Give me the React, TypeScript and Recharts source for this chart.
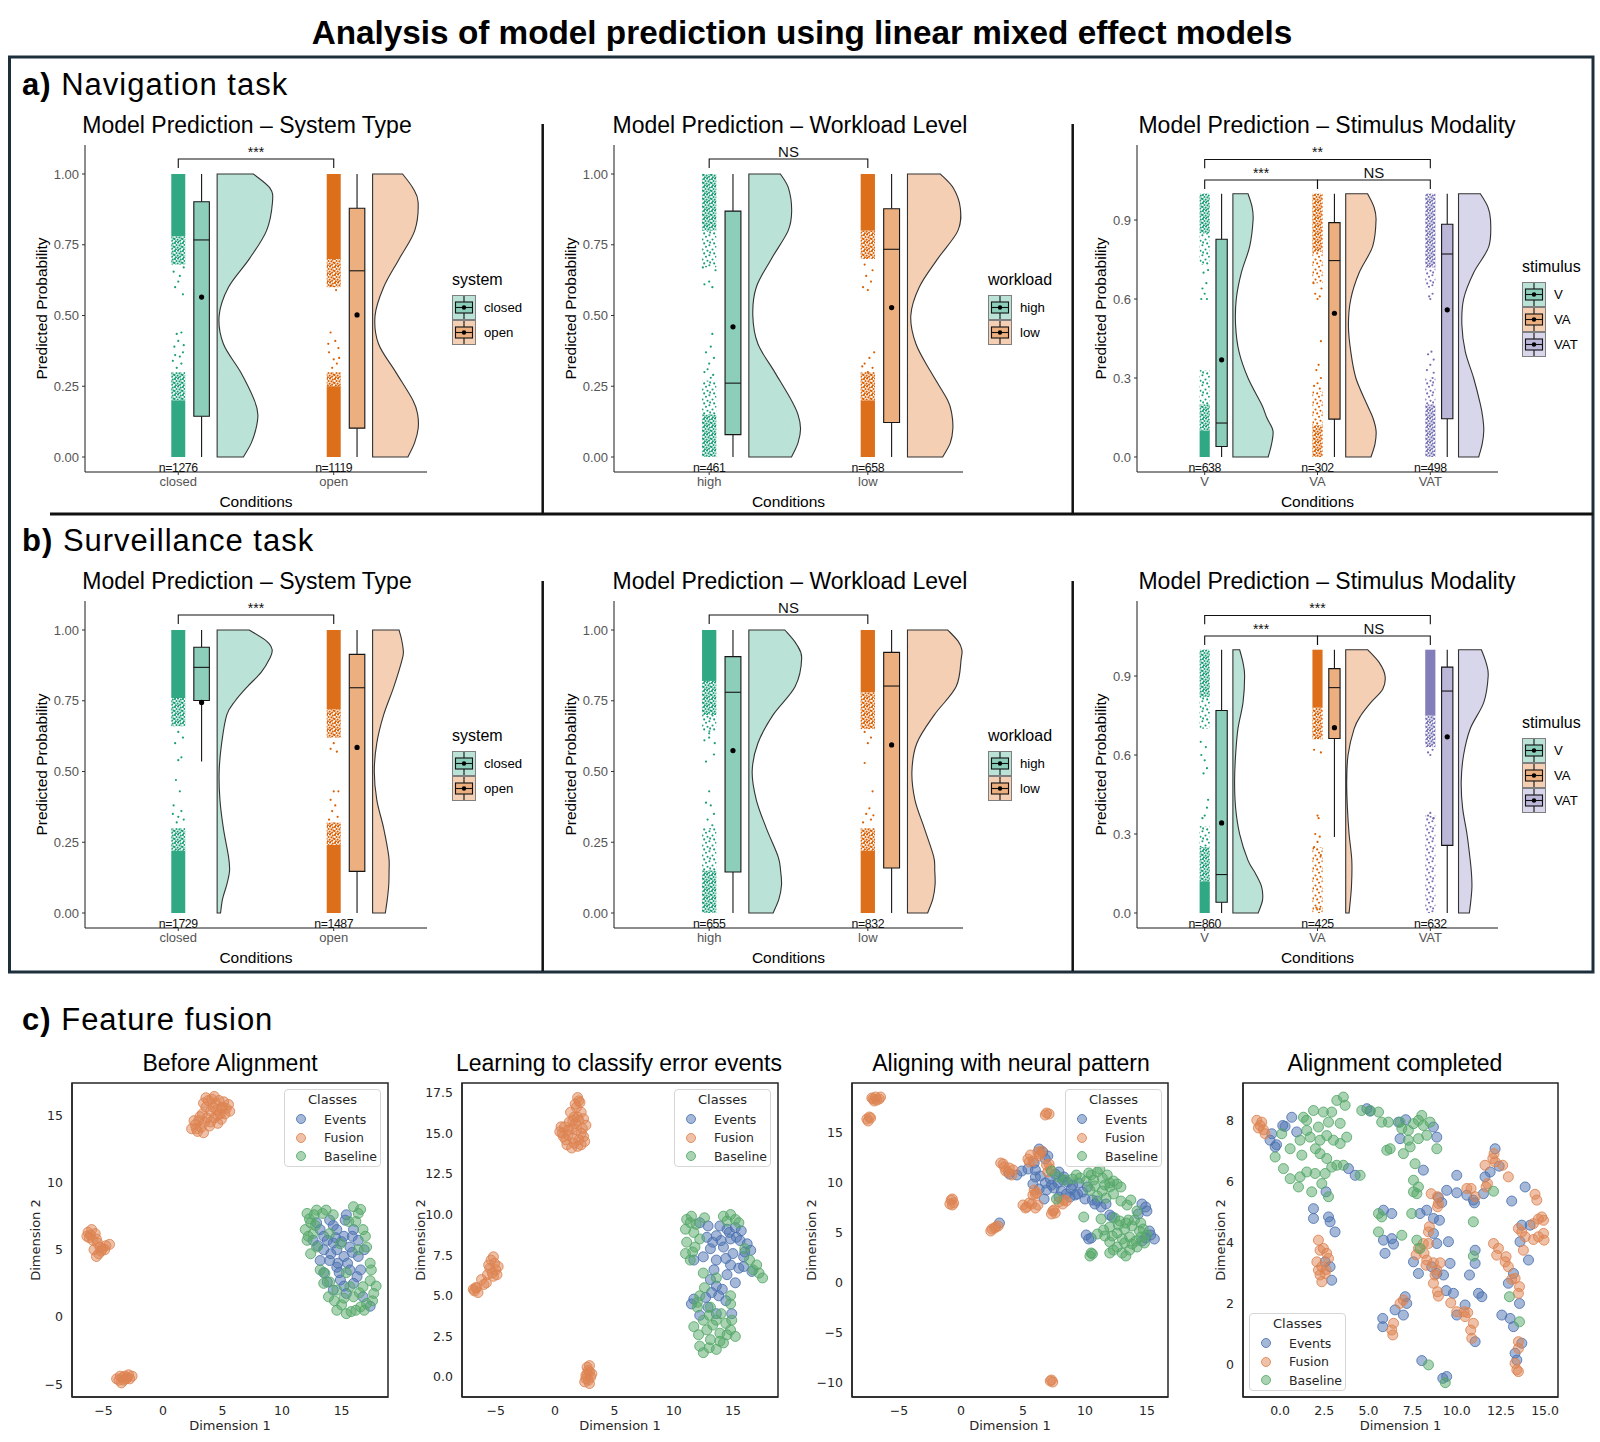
import React from 'react';
import { ComposedChart, ScatterChart, Scatter, XAxis, YAxis, Legend } from 'recharts';

const SANS = '"Liberation Sans", Arial, Helvetica, sans-serif';
const DEJAVU = '"DejaVu Sans", Verdana, sans-serif';

// [points, box fill, violin fill]
const TONES = [
  ['#1b9e77', '#8dcebb', '#bbe2d6'],
  ['#d95f02', '#ecaf80', '#f4cfb3'],
  ['#7570b3', '#bab7d9', '#d8d6ea'],
];

const SYSTEM_CATS = ['closed', 'open'];
const WORKLOAD_CATS = ['high', 'low'];
const STIMULUS_CATS = ['V', 'VA', 'VAT'];
const TICKS_2 = [0, 0.25, 0.5, 0.75, 1];
const TICKS_3 = [0, 0.3, 0.6, 0.9];

// box: [lower whisker, q1, median, q3, upper whisker]
// violin: [y, half width in category units]
// bands: [y1, y2, density 1..3] for the packed part of the jitter strip
// dots: [x jitter, y] for the loose points
const NAV_SYSTEM = [
  {
    name: 'closed', n: 1276, tone: 0, box: [0, 0.144, 0.767, 0.902, 1], mean: 0.565,
    violin: [[0, 0.169], [0.05, 0.22], [0.1, 0.25], [0.15, 0.262], [0.2, 0.24], [0.3, 0.151], [0.4, 0.04], [0.5, 0.013], [0.6, 0.073], [0.7, 0.207], [0.8, 0.318], [0.9, 0.356], [0.95, 0.34], [1, 0.233]],
    bands: [[0, 0.2, 3], [0.2, 0.3, 2], [0.68, 0.78, 2], [0.78, 1, 3]],
    dots: [[-0.02, 0.6], [0.03, 0.575], [0.01, 0.64], [-0.03, 0.655], [0.035, 0.67], [0, 0.62], [-0.01, 0.435], [0.02, 0.44], [0, 0.41], [-0.025, 0.39], [0.03, 0.37], [0.01, 0.355], [-0.035, 0.34], [0.02, 0.33], [-0.01, 0.315], [0.035, 0.395], [-0.02, 0.36]],
  },
  {
    name: 'open', n: 1119, tone: 1, box: [0, 0.102, 0.658, 0.879, 1], mean: 0.502,
    violin: [[0, 0.227], [0.05, 0.27], [0.1, 0.293], [0.15, 0.29], [0.2, 0.26], [0.3, 0.149], [0.4, 0.038], [0.5, 0.016], [0.6, 0.071], [0.7, 0.171], [0.8, 0.271], [0.9, 0.293], [0.95, 0.26], [1, 0.193]],
    bands: [[0, 0.25, 3], [0.25, 0.3, 2], [0.6, 0.7, 2], [0.7, 1, 3]],
    dots: [[-0.02, 0.44], [0.01, 0.41], [0.03, 0.385], [-0.03, 0.37], [0, 0.345], [0.02, 0.33], [-0.01, 0.315], [0.035, 0.35], [-0.035, 0.4], [0.015, 0.59], [-0.02, 0.605]],
  },
];

const NAV_WORKLOAD = [
  {
    name: 'high', n: 461, tone: 0, box: [0, 0.079, 0.261, 0.869, 1], mean: 0.46,
    violin: [[0, 0.269], [0.05, 0.31], [0.1, 0.326], [0.15, 0.31], [0.2, 0.269], [0.3, 0.163], [0.4, 0.057], [0.5, 0.025], [0.6, 0.047], [0.7, 0.142], [0.8, 0.248], [0.87, 0.27], [0.95, 0.25], [1, 0.199]],
    bands: [[0, 0.15, 2], [0.15, 0.27, 1], [0.8, 1, 2], [0.67, 0.8, 1]],
    dots: [[-0.03, 0.61], [0, 0.62], [0.02, 0.6], [0.02, 0.435], [0.01, 0.39], [-0.02, 0.37], [0.03, 0.35], [0, 0.33], [-0.01, 0.31], [0.025, 0.29], [-0.03, 0.3], [0.01, 0.28], [0.04, 0.66], [-0.04, 0.67]],
  },
  {
    name: 'low', n: 658, tone: 1, box: [0, 0.122, 0.734, 0.877, 1], mean: 0.528,
    violin: [[0, 0.222], [0.05, 0.27], [0.1, 0.286], [0.15, 0.28], [0.2, 0.254], [0.3, 0.148], [0.4, 0.053], [0.5, 0.021], [0.6, 0.074], [0.7, 0.19], [0.8, 0.318], [0.88, 0.333], [0.95, 0.29], [1, 0.208]],
    bands: [[0, 0.2, 3], [0.2, 0.3, 2], [0.7, 0.8, 2], [0.8, 1, 3]],
    dots: [[-0.03, 0.6], [0, 0.59], [0.02, 0.62], [-0.01, 0.64], [0.03, 0.66], [-0.02, 0.68], [0.04, 0.37], [0.01, 0.35], [-0.02, 0.33], [0.03, 0.315], [0, 0.3], [-0.035, 0.32]],
  },
];

const NAV_STIMULUS = [
  {
    name: 'V', n: 638, tone: 0, box: [0, 0.04, 0.129, 0.827, 1], mean: 0.369,
    violin: [[0, 0.313], [0.05, 0.343], [0.1, 0.355], [0.15, 0.3], [0.2, 0.254], [0.3, 0.134], [0.4, 0.054], [0.5, 0.024], [0.6, 0.03], [0.7, 0.075], [0.8, 0.149], [0.9, 0.179], [0.95, 0.17], [1, 0.134]],
    bands: [[0, 0.1, 3], [0.1, 0.2, 2], [0.2, 0.33, 1], [0.85, 1, 2], [0.73, 0.85, 1]],
    dots: [[-0.03, 0.6], [0.02, 0.6], [0, 0.62], [-0.01, 0.7], [0.03, 0.71], [-0.02, 0.64], [0.015, 0.66]],
  },
  {
    name: 'VA', n: 302, tone: 1, box: [0, 0.144, 0.746, 0.89, 1], mean: 0.546,
    violin: [[0, 0.224], [0.05, 0.26], [0.1, 0.269], [0.15, 0.24], [0.2, 0.188], [0.3, 0.09], [0.4, 0.045], [0.5, 0.024], [0.6, 0.045], [0.7, 0.119], [0.8, 0.239], [0.9, 0.269], [0.95, 0.25], [1, 0.194]],
    bands: [[0, 0.12, 2], [0.12, 0.25, 1], [0.78, 1, 2], [0.66, 0.78, 1]],
    dots: [[0, 0.6], [0.02, 0.61], [-0.02, 0.62], [0.03, 0.44], [0.01, 0.35], [-0.01, 0.33], [0.03, 0.3], [0, 0.28], [-0.03, 0.27], [0.02, 0.26], [0.035, 0.64], [-0.035, 0.66]],
  },
  {
    name: 'VAT', n: 498, tone: 2, box: [0, 0.145, 0.771, 0.884, 1], mean: 0.559,
    violin: [[0, 0.179], [0.05, 0.21], [0.1, 0.224], [0.15, 0.215], [0.2, 0.194], [0.3, 0.134], [0.4, 0.06], [0.5, 0.03], [0.6, 0.045], [0.7, 0.134], [0.8, 0.269], [0.9, 0.284], [0.95, 0.26], [1, 0.194]],
    bands: [[0, 0.2, 2], [0.2, 0.3, 1], [0.72, 1, 2], [0.64, 0.72, 1]],
    dots: [[0, 0.6], [0.02, 0.62], [-0.01, 0.61], [0.03, 0.37], [-0.02, 0.39], [0.01, 0.4], [0, 0.35], [-0.03, 0.33], [0.03, 0.32], [0.02, 0.3]],
  },
];

const SURV_SYSTEM = [
  {
    name: 'closed', n: 1729, tone: 0, box: [0.535, 0.751, 0.868, 0.939, 1], mean: 0.744,
    violin: [[0, 0.022], [0.05, 0.035], [0.1, 0.062], [0.15, 0.08], [0.2, 0.073], [0.3, 0.04], [0.4, 0.018], [0.5, 0.013], [0.6, 0.029], [0.7, 0.062], [0.75, 0.117], [0.8, 0.195], [0.85, 0.283], [0.9, 0.339], [0.93, 0.354], [0.96, 0.32], [1, 0.206]],
    bands: [[0, 0.22, 3], [0.22, 0.3, 2], [0.76, 1, 3], [0.66, 0.76, 2]],
    dots: [[0, 0.54], [0.02, 0.55], [-0.015, 0.47], [0.01, 0.43], [-0.02, 0.6], [0.03, 0.62], [0, 0.64], [-0.03, 0.38], [0.02, 0.36], [0, 0.34], [-0.01, 0.32], [0.035, 0.33], [-0.035, 0.35]],
  },
  {
    name: 'open', n: 1487, tone: 1, box: [0, 0.147, 0.796, 0.914, 1], mean: 0.585,
    violin: [[0, 0.082], [0.05, 0.095], [0.1, 0.104], [0.15, 0.106], [0.2, 0.104], [0.3, 0.071], [0.4, 0.027], [0.5, 0.011], [0.6, 0.027], [0.7, 0.071], [0.8, 0.137], [0.9, 0.192], [0.93, 0.197], [0.97, 0.185], [1, 0.17]],
    bands: [[0, 0.24, 3], [0.24, 0.32, 2], [0.72, 1, 3], [0.62, 0.72, 2]],
    dots: [[0, 0.43], [0.03, 0.43], [-0.02, 0.4], [0.01, 0.38], [-0.01, 0.36], [0.025, 0.34], [-0.03, 0.33], [0, 0.6], [-0.02, 0.58], [0.02, 0.57]],
  },
];

const SURV_WORKLOAD = [
  {
    name: 'high', n: 655, tone: 0, box: [0, 0.145, 0.78, 0.906, 1], mean: 0.574,
    violin: [[0, 0.153], [0.05, 0.19], [0.1, 0.206], [0.15, 0.2], [0.2, 0.184], [0.3, 0.11], [0.4, 0.047], [0.5, 0.021], [0.6, 0.057], [0.7, 0.153], [0.8, 0.292], [0.9, 0.333], [0.95, 0.3], [1, 0.227]],
    bands: [[0, 0.15, 2], [0.15, 0.3, 1], [0.82, 1, 3], [0.7, 0.82, 2], [0.64, 0.7, 1]],
    dots: [[-0.03, 0.61], [0, 0.62], [0.03, 0.56], [-0.02, 0.535], [0, 0.43], [-0.02, 0.39], [0.01, 0.38], [0.03, 0.35], [-0.01, 0.33], [0.02, 0.31], [0, 0.635], [0.035, 0.6]],
  },
  {
    name: 'low', n: 832, tone: 1, box: [0, 0.159, 0.802, 0.921, 1], mean: 0.594,
    violin: [[0, 0.127], [0.05, 0.16], [0.1, 0.174], [0.15, 0.172], [0.2, 0.165], [0.3, 0.106], [0.4, 0.047], [0.5, 0.028], [0.6, 0.059], [0.7, 0.169], [0.8, 0.307], [0.9, 0.339], [0.93, 0.343], [0.96, 0.32], [1, 0.254]],
    bands: [[0, 0.22, 3], [0.22, 0.3, 2], [0.78, 1, 3], [0.65, 0.78, 2]],
    dots: [[-0.02, 0.53], [0.03, 0.43], [0.01, 0.37], [-0.01, 0.35], [0.02, 0.33], [-0.03, 0.32], [0, 0.6], [0.02, 0.62], [-0.02, 0.64], [0.035, 0.345]],
  },
];

const SURV_STIMULUS = [
  {
    name: 'V', n: 860, tone: 0, box: [0, 0.041, 0.146, 0.769, 1], mean: 0.342,
    violin: [[0, 0.224], [0.05, 0.263], [0.1, 0.254], [0.15, 0.2], [0.2, 0.134], [0.3, 0.06], [0.4, 0.024], [0.5, 0.015], [0.6, 0.024], [0.7, 0.045], [0.8, 0.09], [0.9, 0.104], [0.95, 0.09], [1, 0.06]],
    bands: [[0, 0.12, 3], [0.12, 0.25, 2], [0.25, 0.33, 1], [0.82, 1, 2], [0.7, 0.82, 1]],
    dots: [[-0.03, 0.6], [0, 0.58], [0.02, 0.55], [-0.01, 0.53], [0.03, 0.43], [0, 0.37], [-0.02, 0.36], [0.02, 0.4], [0.01, 0.63], [-0.035, 0.65]],
  },
  {
    name: 'VA', n: 425, tone: 1, box: [0.289, 0.663, 0.856, 0.928, 1], mean: 0.704,
    violin: [[0, 0.03], [0.1, 0.051], [0.2, 0.054], [0.3, 0.03], [0.4, 0.015], [0.5, 0.009], [0.6, 0.021], [0.7, 0.075], [0.75, 0.134], [0.8, 0.224], [0.85, 0.328], [0.9, 0.349], [0.95, 0.299], [1, 0.194]],
    bands: [[0.78, 1, 3], [0.66, 0.78, 2], [0, 0.25, 1]],
    dots: [[0, 0.37], [0.01, 0.36], [-0.02, 0.3], [0.02, 0.29], [0, 0.27], [-0.03, 0.25], [0.03, 0.22], [-0.01, 0.02], [0.02, 0.015], [0.03, 0.61], [-0.03, 0.62]],
  },
  {
    name: 'VAT', n: 632, tone: 2, box: [0, 0.257, 0.843, 0.934, 1], mean: 0.669,
    violin: [[0, 0.096], [0.05, 0.11], [0.1, 0.119], [0.15, 0.115], [0.2, 0.104], [0.3, 0.075], [0.4, 0.036], [0.5, 0.024], [0.6, 0.045], [0.7, 0.104], [0.8, 0.224], [0.9, 0.263], [0.95, 0.245], [1, 0.203]],
    bands: [[0.75, 1, 3], [0.63, 0.75, 2], [0, 0.3, 1], [0.3, 0.37, 1]],
    dots: [[0, 0.6], [-0.02, 0.61], [0.02, 0.62], [0, 0.38], [-0.02, 0.37], [0.03, 0.36]],
  },
];

const BR_SYSTEM = [{ from: 1, to: 2, y: 1.053, leg: 1.021, label: '***', ly: 1.06 }];
const BR_WORKLOAD = [{ from: 1, to: 2, y: 1.053, leg: 1.021, label: 'NS', ly: 1.06 }];
const BR_STIM_NAV = [
  { from: 1, to: 3, y: 1.13, leg: 1.097, label: '**', ly: 1.139 },
  { from: 1, to: 2, y: 1.052, leg: 1.018, label: '***', ly: 1.06 },
  { from: 2, to: 3, y: 1.052, leg: 1.018, label: 'NS', ly: 1.06 },
];
const BR_STIM_SURV = [
  { from: 1, to: 3, y: 1.13, leg: 1.097, label: '***', ly: 1.139 },
  { from: 1, to: 2, y: 1.052, leg: 1.018, label: '***', ly: 1.06 },
  { from: 2, to: 3, y: 1.052, leg: 1.018, label: 'NS', ly: 1.06 },
];

// ---- panel c: 2-D embeddings ----
const BEFORE_EVENTS = [[14.0, 7.2], [15.4, 7.6], [13.2, 6.5], [14.6, 6.5], [16.0, 6.5], [12.6, 5.7], [13.8, 5.7], [15.2, 6.0], [16.4, 5.7], [13.5, 5.0], [14.6, 5.0], [15.7, 5.2], [14.0, 4.2], [15.2, 4.5], [16.4, 4.5], [14.6, 3.7], [15.7, 3.5], [13.5, 3.3], [14.9, 2.75], [16.0, 2.5], [14.3, 2.0], [15.4, 1.75], [16.8, 1.5], [17.4, 0.8], [12.9, 7.0], [14.3, 5.5], [16.6, 3.5], [13.2, 4.2], [15.3, 7.2], [14.7, 4.0], [14.3, 6.8], [13.5, 6.0], [15.0, 5.6], [15.9, 6.0], [14.1, 4.7], [15.5, 4.0], [14.8, 3.3], [13.8, 2.6], [15.2, 2.3], [16.3, 3.0], [14.5, 5.9], [13.0, 5.3], [15.9, 4.8], [16.9, 5.0]];
const BEFORE_FUSION = [[2.4, 14.0], [2.7, 14.3], [2.9, 13.8], [3.2, 14.1], [3.0, 14.6], [3.5, 14.5], [3.3, 15.1], [3.6, 15.6], [3.8, 16.1], [4.1, 16.2], [4.4, 15.9], [4.0, 15.3], [4.3, 14.8], [4.6, 14.4], [4.8, 15.1], [5.0, 15.6], [5.3, 15.5], [5.5, 15.8], [4.7, 16.1], [3.9, 14.2], [4.9, 14.7], [4.5, 15.4], [3.4, 15.9], [2.6, 14.6], [5.2, 15.1], [3.1, 14.9], [3.7, 14.8], [4.2, 15.6], [4.6, 15.0], [5.1, 16.0], [3.6, 16.3], [4.3, 16.4], [2.8, 14.0], [3.4, 13.7], [5.6, 15.3], [4.0, 14.5], [4.9, 15.5], [-6.3, 6.3], [-6.0, 6.5], [-5.7, 6.2], [-6.2, 5.9], [-5.9, 5.7], [-5.5, 5.5], [-5.8, 5.0], [-5.4, 4.7], [-5.1, 5.1], [-4.8, 5.3], [-4.5, 5.4], [-5.6, 4.5], [-5.2, 4.9], [-6.1, 6.1], [-5.6, 5.8], [-5.3, 5.2], [-4.9, 5.0], [-6.4, 6.0], [-3.9, -4.6], [-3.6, -4.4], [-3.3, -4.7], [-3.0, -4.5], [-2.8, -4.6], [-3.5, -4.9], [-3.2, -4.4], [-2.6, -4.4], [-3.7, -4.7], [-3.1, -4.6], [-2.9, -4.3], [-3.4, -4.5]];
const BEFORE_BASELINE = [[12.1, 7.7], [12.9, 7.95], [12.4, 7.0], [11.95, 6.5], [12.6, 6.2], [13.4, 7.7], [14.3, 7.6], [12.1, 5.7], [12.9, 5.2], [12.4, 4.7], [16.0, 8.2], [16.4, 7.7], [15.6, 7.1], [16.8, 6.5], [17.1, 5.2], [16.4, 5.0], [13.6, 3.25], [13.5, 2.5], [14.6, 2.0], [15.2, 1.4], [16.0, 1.5], [16.8, 2.25], [17.4, 2.7], [17.7, 1.75], [17.1, 1.0], [16.2, 0.5], [15.4, 0.25], [14.6, 0.5], [16.6, 0.75], [15.7, 2.25], [14.0, 2.6], [17.4, 4.0], [13.2, 3.5], [14.0, 6.2], [14.9, 5.45], [15.4, 3.3], [12.3, 7.3], [12.7, 7.6], [13.7, 7.95], [12.2, 6.0], [12.8, 6.8], [16.6, 8.0], [16.2, 7.1], [17.0, 6.0], [17.5, 3.5], [17.9, 2.3], [16.5, 1.8], [15.0, 0.9], [15.8, 0.4], [16.9, 0.5], [13.9, 1.5], [14.4, 1.2], [17.6, 1.2]];

const LEARN_EVENTS = [[12.2, 9.5], [12.9, 9.3], [13.9, 9.3], [14.5, 9.1], [15.2, 9.2], [13.6, 8.7], [14.8, 8.5], [15.6, 8.4], [16.2, 8.2], [16.5, 7.8], [14.2, 8.0], [15.0, 7.6], [15.9, 7.4], [13.1, 7.9], [12.5, 7.4], [11.7, 7.2], [13.6, 7.2], [14.8, 6.9], [15.5, 6.7], [16.6, 6.5], [13.1, 6.0], [13.6, 5.6], [13.2, 5.2], [14.1, 5.4], [12.7, 4.9], [11.7, 4.8], [11.5, 4.5], [12.2, 3.8], [14.9, 3.9], [15.2, 5.8], [14.5, 6.3], [13.3, 8.3], [14.0, 8.4], [15.3, 8.6], [16.0, 7.7], [14.4, 7.3], [13.4, 6.6], [15.9, 6.8], [13.8, 5.0], [14.4, 4.7], [12.9, 4.3], [13.6, 3.9], [14.7, 8.9], [12.8, 8.6], [15.7, 9.0]];
const LEARN_FUSION = [[1.9, 17.2], [2.1, 16.9], [1.8, 16.6], [2.2, 16.3], [1.6, 16.0], [2.0, 15.8], [2.4, 15.9], [1.2, 15.7], [1.4, 15.3], [1.8, 15.2], [2.3, 15.3], [0.8, 15.4], [0.4, 15.1], [0.7, 14.8], [1.1, 14.9], [1.5, 14.7], [2.0, 14.6], [2.4, 14.8], [1.0, 14.3], [1.4, 14.1], [1.9, 14.2], [0.6, 15.0], [2.6, 15.5], [1.7, 15.6], [1.3, 16.3], [1.9, 16.0], [2.2, 15.0], [1.1, 15.2], [0.9, 14.6], [1.6, 14.4], [2.2, 14.3], [1.5, 15.8], [2.0, 17.0], [1.7, 16.8], [0.5, 15.4], [2.5, 14.5], [-5.4, 7.2], [-5.1, 7.0], [-5.6, 6.9], [-5.0, 6.6], [-5.3, 6.4], [-5.7, 6.3], [-4.9, 6.3], [-5.5, 6.7], [-6.2, 6.0], [-5.8, 5.8], [-6.6, 5.5], [-6.8, 5.3], [-6.5, 5.2], [-6.7, 5.5], [-5.2, 7.4], [-4.8, 6.8], [-5.2, 6.2], [-6.0, 5.7], [-6.9, 5.4], [2.7, 0.6], [2.9, 0.3], [2.6, 0.1], [3.0, 0.0], [2.8, -0.2], [2.5, -0.3], [2.9, -0.4], [2.7, 0.2], [2.8, 0.4], [3.1, 0.2], [2.6, -0.1], [2.9, 0.7]];
const LEARN_BASELINE = [[11.1, 9.7], [11.5, 9.9], [11.0, 9.1], [11.7, 8.9], [12.2, 8.5], [11.1, 8.3], [11.8, 8.0], [14.2, 9.9], [14.8, 10.0], [15.2, 9.7], [16.0, 7.9], [16.7, 6.6], [17.2, 6.4], [11.4, 7.2], [12.5, 6.4], [13.6, 6.1], [14.8, 5.0], [12.2, 5.0], [12.0, 4.3], [13.1, 4.3], [14.8, 4.5], [12.5, 3.5], [13.6, 3.5], [14.4, 3.3], [12.8, 2.9], [13.9, 2.7], [14.8, 2.9], [13.1, 2.3], [14.2, 2.1], [12.2, 1.9], [13.6, 1.7], [12.5, 1.5], [15.2, 2.5], [11.7, 3.1], [11.4, 9.5], [11.9, 9.4], [12.6, 9.8], [14.5, 9.6], [15.5, 9.5], [11.6, 7.7], [11.0, 7.6], [17.5, 6.1], [17.0, 6.9], [16.4, 7.2], [12.6, 5.5], [13.0, 3.8], [14.0, 3.9], [13.3, 3.2], [12.1, 2.6], [14.9, 3.5], [13.0, 1.8], [13.9, 2.2], [14.5, 2.6], [12.0, 4.6]];

const ALIGN_EVENTS = [[3.9, 10.9], [4.5, 10.8], [4.9, 11.2], [5.4, 11.4], [5.9, 12.0], [6.3, 13.4], [6.6, 13.1], [6.8, 12.4], [7.0, 12.7], [6.0, 11.3], [6.4, 10.7], [7.2, 10.4], [7.6, 10.9], [7.9, 11.1], [8.3, 10.6], [8.6, 10.1], [9.0, 9.8], [5.8, 9.9], [6.3, 9.4], [6.9, 9.3], [7.5, 9.5], [6.7, 8.4], [7.9, 8.6], [8.5, 8.9], [9.2, 8.8], [9.8, 9.1], [10.2, 9.6], [10.6, 8.3], [11.3, 7.6], [11.7, 7.9], [12.2, 6.6], [10.3, 4.4], [10.1, 4.8], [14.6, 7.9], [14.9, 7.6], [15.2, 5.2], [15.6, 4.4], [14.9, 4.5], [14.3, 6.9], [8.2, 10.3], [8.9, 9.4], [9.5, 10.0], [3.1, 6.0], [6.8, 10.0], [7.3, 9.8], [8.1, 9.2], [8.8, 8.6], [9.4, 8.9], [10.0, 8.4], [10.8, 7.9], [12.0, 6.8], [11.0, 8.2], [15.0, 7.2], [15.3, 4.8], [14.6, 4.2], [10.5, 4.5], [6.0, 10.6], [7.8, 10.0]];
const ALIGN_FUSION = [[-7.2, 18.5], [-6.9, 18.6], [-6.6, 18.4], [-7.0, 18.2], [-6.5, 18.6], [-7.1, 18.4], [-6.8, 18.3], [-7.6, 16.4], [-7.4, 16.6], [-7.5, 16.2], [-7.3, 16.5], [6.9, 17.0], [7.1, 16.9], [6.8, 16.8], [-0.8, 8.3], [-0.6, 8.0], [-0.9, 7.9], [-0.7, 8.4], [-0.7, 7.8], [2.4, 5.2], [2.7, 5.5], [3.0, 5.7], [2.5, 5.4], [2.8, 5.6], [3.2, 12.0], [3.5, 11.6], [3.8, 11.1], [4.1, 10.8], [3.6, 11.2], [4.2, 11.3], [3.4, 11.9], [3.9, 11.5], [5.4, 12.4], [5.6, 12.8], [5.8, 12.2], [6.2, 13.1], [6.5, 13.2], [6.4, 12.9], [5.5, 12.1], [6.3, 12.7], [5.9, 9.3], [5.8, 8.8], [6.1, 9.0], [6.0, 8.9], [5.0, 7.8], [5.3, 7.6], [5.7, 7.9], [6.0, 7.5], [5.5, 8.0], [5.2, 7.5], [6.2, 7.8], [6.9, 11.8], [7.2, 11.4], [7.0, 11.1], [7.1, 11.9], [7.4, 7.2], [7.6, 7.0], [7.3, 6.9], [7.5, 7.3], [7.9, 8.1], [8.2, 7.9], [8.5, 8.2], [8.3, 8.3], [7.2, -9.8], [7.4, -9.9], [7.3, -9.7]];
const ALIGN_BASELINE = [[7.3, 11.2], [7.9, 10.6], [8.4, 10.3], [9.0, 10.4], [9.6, 10.5], [10.1, 10.2], [10.5, 10.8], [11.0, 11.1], [11.4, 10.5], [11.8, 10.8], [12.3, 10.2], [10.8, 9.7], [11.4, 9.2], [12.0, 9.6], [12.6, 9.9], [10.4, 9.3], [11.0, 8.7], [11.7, 8.5], [12.9, 8.2], [13.4, 7.8], [13.7, 8.3], [12.4, 6.5], [12.0, 5.6], [12.6, 5.0], [13.2, 5.4], [13.8, 5.7], [14.4, 5.2], [13.0, 4.4], [13.6, 4.6], [14.1, 4.2], [12.3, 3.3], [13.0, 3.0], [13.6, 3.3], [14.2, 3.6], [14.8, 4.0], [11.6, 4.7], [11.0, 4.9], [10.4, 2.7], [10.6, 2.9], [12.0, 4.1], [14.7, 5.4], [15.0, 4.8], [7.7, 8.4], [9.9, 6.6], [11.3, 6.4], [12.8, 6.2], [13.5, 6.3], [9.3, 10.8], [10.3, 11.0], [11.2, 11.4], [12.0, 10.0], [12.9, 9.6], [11.6, 9.8], [10.7, 10.3], [12.3, 8.9], [12.7, 5.8], [13.3, 6.0], [14.0, 6.3], [14.5, 6.0], [13.2, 4.0], [13.8, 3.9], [14.5, 4.6], [12.6, 3.6], [12.0, 3.0], [13.3, 2.7], [11.5, 5.3], [12.2, 4.7], [10.5, 3.0], [14.2, 7.2]];

const DONE_EVENTS = [[0.66, 8.1], [0.15, 7.83], [-0.47, 7.56], [-0.57, 7.35], [-0.28, 7.13], [-0.2, 7.2], [0.28, 7.8], [0.94, 7.62], [3.87, 6.42], [4.25, 6.2], [2.6, 5.66], [1.89, 5.11], [1.89, 4.79], [2.74, 4.84], [2.83, 4.68], [3.11, 4.35], [2.83, 3.21], [2.92, 2.77], [2.55, 3.37], [4.91, 8.38], [5.1, 8.3], [6.7, 7.94], [6.79, 7.4], [8.68, 7.78], [8.87, 7.45], [7.11, 8.02], [8.11, 6.37], [5.85, 5.06], [6.32, 4.95], [5.85, 4.08], [6.32, 4.13], [6.42, 3.95], [5.94, 3.65], [7.55, 3.37], [7.83, 2.99], [8.68, 4.3], [8.87, 3.97], [9.53, 4.03], [9.62, 3.32], [8.58, 3.21], [8.87, 2.99], [9.25, 2.94], [7.92, 4.95], [8.3, 5.06], [8.68, 4.79], [9.43, 5.71], [10.0, 6.2], [10.0, 5.63], [10.57, 5.55], [10.94, 5.39], [11.51, 5.6], [11.6, 6.15], [11.89, 6.31], [12.17, 7.07], [13.11, 5.36], [13.87, 5.82], [13.68, 4.57], [14.15, 4.57], [13.58, 4.03], [14.06, 3.43], [11.04, 3.75], [11.04, 3.32], [10.72, 2.94], [11.23, 2.34], [11.42, 2.23], [12.55, 1.63], [13.02, 1.52], [13.21, 1.25], [13.3, 0.38], [13.4, 0.16], [13.68, 0.71], [13.55, 2.01], [12.92, 2.67], [13.21, 2.99], [9.4, 2.43], [9.81, 2.34], [10.47, 1.96], [10.0, 1.63], [11.04, 0.76], [7.08, 2.23], [7.17, 2.01], [6.98, 1.63], [6.51, 1.8], [5.81, 1.52], [5.81, 1.25], [8.02, 0.14], [9.21, -0.44], [9.43, -0.38], [9.02, 4.73], [9.15, 5.31], [8.96, 5.47], [12.4, 6.5], [11.0, 5.3]];
const DONE_FUSION = [[-1.32, 8.0], [-1.13, 7.83], [-0.94, 7.69], [-1.04, 7.94], [-1.23, 7.75], [-0.85, 7.56], [2.17, 4.08], [2.26, 3.75], [2.45, 3.81], [2.64, 3.65], [2.08, 3.37], [2.36, 3.21], [2.17, 3.1], [2.55, 2.99], [2.26, 2.94], [2.36, 2.72], [2.6, 3.12], [2.74, 3.48], [8.55, 5.6], [8.91, 5.5], [8.96, 5.28], [8.91, 5.17], [8.45, 4.52], [8.4, 4.35], [8.4, 3.97], [8.11, 3.97], [7.83, 3.81], [8.15, 3.65], [8.3, 3.43], [8.26, 3.26], [8.68, 3.34], [8.87, 3.1], [8.77, 2.94], [8.68, 2.67], [8.91, 2.39], [8.96, 2.25], [9.06, 3.34], [9.66, 2.03], [10.0, 1.74], [10.42, 1.74], [10.62, 1.71], [10.47, 1.58], [10.94, 1.36], [10.79, 1.14], [10.85, 0.87], [10.57, 5.77], [10.81, 5.77], [11.04, 5.5], [11.66, 5.82], [11.74, 5.93], [11.6, 6.53], [12.04, 6.75], [12.11, 6.91], [12.17, 6.64], [12.6, 6.53], [12.92, 6.15], [14.43, 5.58], [14.53, 5.39], [14.62, 4.77], [14.81, 4.84], [14.91, 4.73], [14.34, 4.62], [13.49, 4.46], [13.68, 4.35], [13.87, 4.19], [14.34, 4.1], [14.62, 4.19], [14.94, 4.08], [14.91, 4.3], [13.77, 3.75], [12.08, 3.97], [12.36, 3.81], [12.26, 3.59], [12.79, 3.54], [12.74, 3.37], [12.92, 3.21], [13.11, 2.8], [13.3, 2.83], [13.55, 2.56], [13.49, 2.34], [13.49, 0.76], [13.49, 0.54], [13.3, 0.05], [13.4, -0.16], [13.49, -0.22], [6.42, 1.36], [6.32, 1.14], [6.38, 0.98], [6.79, 2.01], [6.98, 2.12], [7.7, 3.6]];
const DONE_BASELINE = [[0.09, 7.56], [0.57, 7.07], [1.13, 7.35], [1.5, 8.0], [1.89, 8.32], [2.17, 7.78], [2.45, 8.27], [2.74, 7.94], [2.92, 8.27], [1.32, 8.1], [1.7, 7.45], [2.0, 7.07], [2.26, 7.35], [2.64, 7.5], [3.02, 7.35], [3.4, 7.24], [3.77, 7.45], [3.4, 7.9], [3.21, 8.65], [3.58, 8.76], [3.68, 8.49], [2.26, 6.91], [2.64, 6.75], [2.92, 6.47], [3.21, 6.53], [3.58, 6.53], [2.55, 6.26], [1.98, 6.26], [1.51, 6.31], [1.13, 6.15], [1.04, 5.82], [0.57, 6.09], [0.19, 6.42], [-0.28, 6.8], [1.79, 5.66], [2.36, 5.93], [2.74, 5.5], [4.53, 6.2], [1.23, 6.86], [1.51, 7.67], [4.62, 8.32], [5.09, 8.32], [5.57, 8.27], [5.75, 7.94], [6.13, 7.94], [6.79, 7.94], [6.89, 7.73], [7.26, 7.67], [7.55, 7.89], [7.83, 8.0], [8.02, 8.16], [8.11, 7.83], [8.3, 7.51], [8.49, 7.94], [7.83, 7.4], [7.36, 7.13], [6.98, 6.91], [6.04, 7.02], [6.23, 7.07], [8.87, 7.07], [7.26, 7.35], [7.64, 6.58], [7.55, 6.04], [7.55, 5.66], [7.83, 5.82], [7.74, 5.6], [5.57, 4.95], [5.75, 4.84], [5.57, 4.35], [6.89, 4.24], [7.45, 4.95], [7.74, 4.08], [7.92, 3.81], [10.94, 4.68], [10.94, 3.56], [12.08, 5.68], [12.98, 2.23], [13.55, 1.41], [8.4, 0.0], [9.35, -0.58]];

const CLASS_NAMES = ['Events', 'Fusion', 'Baseline'];
const CLASS_COLORS = ['#4c72b0', '#dd8452', '#55a868'];

// positions inside the category slot, in category units
const JIT = 0.045;
const BOX_L = 0.1;
const BOX_R = 0.2;
const WHISK = 0.15;
const VBASE = 0.25;

// texture tiles for the packed jitter strips
const DENSE_DOTS = [[1, 1], [4, 0.6], [6.8, 1.6], [2.5, 3], [5.4, 3.4], [7.6, 4.6], [0.6, 4.9], [3.6, 5.6], [6.2, 6.6], [1.8, 7.3], [4.6, 7.8]];
const SPARSE_DOTS = [[1.5, 1.5], [6.5, 2.8], [3.2, 5.4], [8.4, 7.2], [5.0, 8.8], [9.2, 4.4]];

const NoShape = () => <g />;

function PathShape(props: any) {
  const { points, paint } = props;
  if (!points || points.length < 2) return null;
  const p = points;
  let d = '';
  if (paint.smooth) {
    const e = p.slice(1, -1);
    d = `M${p[0].x},${p[0].y}L${e[0].x},${e[0].y}`;
    for (let i = 0; i < e.length - 1; i++) {
      const a = e[i - 1] || e[i];
      const b = e[i];
      const c = e[i + 1];
      const f = e[i + 2] || c;
      d += `C${b.x + (c.x - a.x) / 6},${b.y + (c.y - a.y) / 6} ${c.x - (f.x - b.x) / 6},${c.y - (f.y - b.y) / 6} ${c.x},${c.y}`;
    }
    d += `L${p[p.length - 1].x},${p[p.length - 1].y}`;
  } else {
    d = p.map((q: any, i: number) => `${i ? 'L' : 'M'}${q.x},${q.y}`).join('');
  }
  if (paint.closed) d += 'Z';
  return (
    <path
      d={d}
      fill={paint.fill || 'none'}
      fillOpacity={paint.opacity ?? 1}
      stroke={paint.stroke || 'none'}
      strokeWidth={paint.width || 1}
    />
  );
}

const dotShape = (r: number, fill: string) => (p: any) => <circle cx={p.cx} cy={p.cy} r={r} fill={fill} />;

const textShape = (size: number, spacing = 0) => (p: any) => (
  <text x={p.cx} y={p.cy} textAnchor="middle" fontSize={size} letterSpacing={spacing} fill="#111" fontFamily={SANS}>
    {p.payload.t}
  </text>
);

function rainLayers(g: any, cat: number, pid: string) {
  const [pt, bf, vf] = TONES[g.tone];
  const [lo, q1, med, q3, hi] = g.box;
  const k = `${pid}-${cat}`;
  const ink = { stroke: '#151515', width: 1.1 };
  const out: any[] = [];
  g.bands.forEach(([y1, y2, d]: number[], j: number) => {
    out.push(
      <Scatter
        key={`${k}-band${j}`}
        isAnimationActive={false}
        legendType="none"
        shape={NoShape}
        data={[{ x: cat - JIT, y: y1 }, { x: cat + JIT, y: y1 }, { x: cat + JIT, y: y2 }, { x: cat - JIT, y: y2 }]}
        line={<PathShape paint={{ fill: d === 3 ? pt : `url(#${pid}-p${g.tone}-${d})`, opacity: d === 3 ? 0.9 : 1, closed: true }} />}
      />
    );
  });
  out.push(
    <Scatter key={`${k}-dots`} isAnimationActive={false} legendType="none"
      data={g.dots.map(([dx, y]: number[]) => ({ x: cat + dx, y }))} shape={dotShape(1.1, pt)} />
  );
  out.push(
    <Scatter key={`${k}-wlo`} isAnimationActive={false} legendType="none" shape={NoShape}
      data={[{ x: cat + WHISK, y: lo }, { x: cat + WHISK, y: q1 }]} line={<PathShape paint={ink} />} />
  );
  out.push(
    <Scatter key={`${k}-whi`} isAnimationActive={false} legendType="none" shape={NoShape}
      data={[{ x: cat + WHISK, y: q3 }, { x: cat + WHISK, y: hi }]} line={<PathShape paint={ink} />} />
  );
  out.push(
    <Scatter key={`${k}-box`} isAnimationActive={false} legendType="none" shape={NoShape}
      data={[{ x: cat + BOX_L, y: q1 }, { x: cat + BOX_R, y: q1 }, { x: cat + BOX_R, y: q3 }, { x: cat + BOX_L, y: q3 }]}
      line={<PathShape paint={{ ...ink, fill: bf, closed: true }} />} />
  );
  out.push(
    <Scatter key={`${k}-med`} isAnimationActive={false} legendType="none" shape={NoShape}
      data={[{ x: cat + BOX_L, y: med }, { x: cat + BOX_R, y: med }]} line={<PathShape paint={ink} />} />
  );
  out.push(
    <Scatter key={`${k}-mean`} isAnimationActive={false} legendType="none"
      data={[{ x: cat + WHISK, y: g.mean }]} shape={dotShape(2.6, '#000')} />
  );
  const v = g.violin;
  const vdata = [
    { x: cat + VBASE, y: v[0][0] },
    ...v.map(([y, w]: number[]) => ({ x: cat + VBASE + w, y })),
    { x: cat + VBASE, y: v[v.length - 1][0] },
  ];
  out.push(
    <Scatter key={`${k}-vio`} isAnimationActive={false} legendType="none" shape={NoShape} data={vdata}
      line={<PathShape paint={{ fill: vf, stroke: '#333', width: 1.1, closed: true, smooth: true }} />} />
  );
  return out;
}

function BoxKeys({ title, groups }: any) {
  return (
    <div style={{ fontFamily: SANS, color: '#000' }}>
      <div style={{ fontSize: 16, height: 22, lineHeight: '22px', marginBottom: 4 }}>{title}</div>
      {groups.map((g: any) => {
        const [, bf, vf] = TONES[g.tone];
        return (
          <div key={g.name} style={{ display: 'flex', alignItems: 'center', height: 25 }}>
            <svg width={24} height={25} style={{ display: 'block' }}>
              <rect x={0.5} y={0.5} width={23} height={24} fill={vf} stroke="#7f7f7f" />
              <line x1={12} x2={12} y1={1} y2={24} stroke="#111" strokeWidth={1.1} />
              <rect x={3.5} y={7} width={17} height={11} fill={bf} stroke="#111" strokeWidth={1.1} />
              <line x1={3.5} x2={20.5} y1={12.5} y2={12.5} stroke="#111" strokeWidth={1.1} />
              <circle cx={12} cy={12.5} r={2.2} fill="#000" />
            </svg>
            <span style={{ fontSize: 13.2, marginLeft: 8 }}>{g.name}</span>
          </div>
        );
      })}
    </div>
  );
}

function RainPanel({ cfg }: any) {
  const three = cfg.cats.length === 3;
  const xDomain = three ? [0.4, 3.6] : [0.4, 2.6];
  const yDomain = three ? [-0.057, 1.185] : [-0.053, 1.1025];
  const ticks = three ? TICKS_3 : TICKS_2;
  const digits = three ? 1 : 2;
  const axisInk = { stroke: '#1a1a1a', strokeWidth: 1 };
  return (
    <div style={{ position: 'absolute', left: cfg.left, top: cfg.top, fontFamily: SANS }}>
      <ComposedChart width={cfg.width} height={378} margin={{ top: 7, right: cfg.right, bottom: 4, left: 0 }}>
        <defs>
          {TONES.map(([pt], t) => [
            <pattern key={`d${t}`} id={`${cfg.id}-p${t}-2`} width={8} height={8} patternUnits="userSpaceOnUse">
              {DENSE_DOTS.map(([x, y], i) => <circle key={i} cx={x} cy={y} r={1.1} fill={pt} />)}
            </pattern>,
            <pattern key={`s${t}`} id={`${cfg.id}-p${t}-1`} width={10} height={10} patternUnits="userSpaceOnUse">
              {SPARSE_DOTS.map(([x, y], i) => <circle key={i} cx={x} cy={y} r={1.05} fill={pt} />)}
            </pattern>,
          ])}
        </defs>
        <XAxis
          type="number"
          dataKey="x"
          domain={xDomain}
          ticks={cfg.cats.map((_: string, i: number) => i + 1)}
          tickFormatter={(v: number) => cfg.cats[Math.round(v) - 1]}
          interval={0}
          height={40}
          tickSize={3}
          tickMargin={2}
          axisLine={axisInk}
          tickLine={{ stroke: '#333' }}
          tick={{ fontSize: 13, fill: '#555', fontFamily: SANS }}
          label={{ value: 'Conditions', position: 'insideBottom', offset: 5, fontSize: 15.5, fill: '#000', fontFamily: SANS }}
        />
        <YAxis
          type="number"
          dataKey="y"
          domain={yDomain}
          ticks={ticks}
          interval={0}
          tickFormatter={(v: number) => v.toFixed(digits)}
          width={63}
          tickSize={3}
          tickMargin={3}
          axisLine={axisInk}
          tickLine={{ stroke: '#333' }}
          tick={{ fontSize: 13, fill: '#555', fontFamily: SANS }}
          label={{ value: 'Predicted Probability', angle: -90, position: 'insideLeft', offset: three ? 26 : 19, style: { textAnchor: 'middle' }, fontSize: 15.5, fill: '#000', fontFamily: SANS }}
        />
        {cfg.groups.flatMap((g: any, i: number) => rainLayers(g, i + 1, cfg.id))}
        {cfg.groups.map((g: any, i: number) => (
          <Scatter key={`${cfg.id}-n${i}`} isAnimationActive={false} legendType="none"
            data={[{ x: i + 1, y: yDomain[0], t: `n=${g.n}` }]} shape={textShape(12.3, -0.4)} />
        ))}
        {cfg.brackets.map((b: any, i: number) => (
          <Scatter key={`${cfg.id}-br${i}`} isAnimationActive={false} legendType="none" shape={NoShape}
            data={[{ x: b.from, y: b.leg }, { x: b.from, y: b.y }, { x: b.to, y: b.y }, { x: b.to, y: b.leg }]}
            line={<PathShape paint={{ stroke: '#111', width: 1.1 }} />} />
        ))}
        {cfg.brackets.map((b: any, i: number) => (
          <Scatter key={`${cfg.id}-bl${i}`} isAnimationActive={false} legendType="none"
            data={[{ x: (b.from + b.to) / 2, y: b.ly, t: b.label }]}
            shape={textShape(b.label === 'NS' ? 15 : 14)} />
        ))}
        <Legend
          layout="vertical"
          align="center"
          verticalAlign="middle"
          wrapperStyle={{ left: cfg.legLeft, top: three ? 118 : 131, width: 95, height: 'auto' }}
          content={() => <BoxKeys title={cfg.legendTitle} groups={cfg.groups} />}
        />
      </ComposedChart>
    </div>
  );
}

const RAIN_PANELS = [
  { id: 'a1', left: 22, top: 138, width: 540, right: 135, legLeft: 430, cats: SYSTEM_CATS, groups: NAV_SYSTEM, brackets: BR_SYSTEM, legendTitle: 'system' },
  { id: 'a2', left: 551, top: 138, width: 540, right: 128, legLeft: 437, cats: WORKLOAD_CATS, groups: NAV_WORKLOAD, brackets: BR_WORKLOAD, legendTitle: 'workload' },
  { id: 'a3', left: 1074, top: 138, width: 520, right: 96, legLeft: 448, cats: STIMULUS_CATS, groups: NAV_STIMULUS, brackets: BR_STIM_NAV, legendTitle: 'stimulus' },
  { id: 'b1', left: 22, top: 594, width: 540, right: 135, legLeft: 430, cats: SYSTEM_CATS, groups: SURV_SYSTEM, brackets: BR_SYSTEM, legendTitle: 'system' },
  { id: 'b2', left: 551, top: 594, width: 540, right: 128, legLeft: 437, cats: WORKLOAD_CATS, groups: SURV_WORKLOAD, brackets: BR_WORKLOAD, legendTitle: 'workload' },
  { id: 'b3', left: 1074, top: 594, width: 520, right: 96, legLeft: 448, cats: STIMULUS_CATS, groups: SURV_STIMULUS, brackets: BR_STIM_SURV, legendTitle: 'stimulus' },
];

function ClassKeys() {
  return (
    <div style={{ boxSizing: 'border-box', width: 97, height: 78, border: '1px solid #d6d6d6', borderRadius: 4, background: 'rgba(255,255,255,0.85)', fontFamily: DEJAVU, color: '#262626', fontSize: 12.5 }}>
      <div style={{ height: 20, lineHeight: '20px', textAlign: 'center', fontSize: 13 }}>Classes</div>
      {CLASS_NAMES.map((c, i) => (
        <div key={c} style={{ height: 18.5, display: 'flex', alignItems: 'center' }}>
          <svg width={39} height={18} style={{ display: 'block' }}>
            <circle cx={16} cy={9} r={4.5} fill={CLASS_COLORS[i]} fillOpacity={0.5} stroke={CLASS_COLORS[i]} strokeOpacity={0.85} />
          </svg>
          <span>{c}</span>
        </div>
      ))}
    </div>
  );
}

const fmt = (digits: number) => (v: number) => (v < 0 ? '\u2212' : '') + Math.abs(v).toFixed(digits);

const EMBED_PANELS = [
  { id: 'c1', left: 0, yw: 72, right: 12, labOff: 35, xDomain: [-7.65, 18.9], yDomain: [-5.95, 17.4], xTicks: [-5, 0, 5, 10, 15], yTicks: [-5, 0, 5, 10, 15], xd: 0, yd: 0, legLeft: 284, legTop: 29, sets: [BEFORE_EVENTS, BEFORE_FUSION, BEFORE_BASELINE] },
  { id: 'c2', left: 400, yw: 62, right: 22, labOff: 20, xDomain: [-7.85, 18.8], yDomain: [-1.23, 18.1], xTicks: [-5, 0, 5, 10, 15], yTicks: [0, 2.5, 5, 7.5, 10, 12.5, 15, 17.5], xd: 0, yd: 1, legLeft: 274, legTop: 29, sets: [LEARN_EVENTS, LEARN_FUSION, LEARN_BASELINE] },
  { id: 'c3', left: 800, yw: 52, right: 32, labOff: 11, xDomain: [-8.8, 16.7], yDomain: [-11.4, 20.0], xTicks: [-5, 0, 5, 10, 15], yTicks: [-10, -5, 0, 5, 10, 15], xd: 0, yd: 0, legLeft: 265, legTop: 29, sets: [ALIGN_EVENTS, ALIGN_FUSION, ALIGN_BASELINE] },
  { id: 'c4', left: 1200, yw: 43, right: 42, labOff: 20, xDomain: [-2.1, 15.73], yDomain: [-1.05, 9.22], xTicks: [0, 2.5, 5, 7.5, 10, 12.5, 15], yTicks: [0, 2, 4, 6, 8], xd: 1, yd: 0, legLeft: 49, legTop: 253, sets: [DONE_EVENTS, DONE_FUSION, DONE_BASELINE] },
];

function EmbedPanel({ cfg }: any) {
  const frame = { stroke: '#262626', strokeWidth: 1.5 };
  const tick = { fontSize: 12.5, fill: '#262626', fontFamily: DEJAVU };
  const [x0, x1] = cfg.xDomain;
  const [y0, y1] = cfg.yDomain;
  return (
    <div style={{ position: 'absolute', left: cfg.left, top: 1060, fontFamily: DEJAVU }}>
      <ScatterChart width={400} height={382} margin={{ top: 23, right: cfg.right, bottom: 5, left: 0 }}>
        <XAxis type="number" dataKey="x" domain={cfg.xDomain} ticks={cfg.xTicks} interval={0}
          tickFormatter={fmt(cfg.xd)} height={40} tickSize={0} tickMargin={9} axisLine={frame} tick={tick}
          label={{ value: 'Dimension 1', position: 'insideBottom', offset: 7, fontSize: 13, fill: '#262626', fontFamily: DEJAVU }} />
        <YAxis type="number" dataKey="y" domain={cfg.yDomain} ticks={cfg.yTicks} interval={0}
          tickFormatter={fmt(cfg.yd)} width={cfg.yw} tickSize={0} tickMargin={9} axisLine={frame} tick={tick}
          label={{ value: 'Dimension 2', angle: -90, position: 'insideLeft', offset: cfg.labOff, style: { textAnchor: 'middle' }, fontSize: 13, fill: '#262626', fontFamily: DEJAVU }} />
        {cfg.sets.map((set: number[][], i: number) => (
          <Scatter
            key={`${cfg.id}-${i}`}
            name={CLASS_NAMES[i]}
            isAnimationActive={false}
            data={set.map(([x, y]) => ({ x, y }))}
            shape={(p: any) => (
              <circle cx={p.cx} cy={p.cy} r={5} fill={CLASS_COLORS[i]} fillOpacity={0.5} stroke={CLASS_COLORS[i]} strokeOpacity={0.85} strokeWidth={1} />
            )}
          />
        ))}
        <Scatter key={`${cfg.id}-frame`} isAnimationActive={false} legendType="none" shape={NoShape}
          data={[{ x: x0, y: y0 }, { x: x1, y: y0 }, { x: x1, y: y1 }, { x: x0, y: y1 }]}
          line={<PathShape paint={{ stroke: '#262626', width: 1.5, closed: true }} />} />
        <Legend layout="vertical" align="center" verticalAlign="middle"
          wrapperStyle={{ left: cfg.legLeft, top: cfg.legTop, width: 97, height: 78 }}
          content={() => <ClassKeys />} />
      </ScatterChart>
    </div>
  );
}

const RAIN_TITLES = [
  { x: 247, t: 'Model Prediction \u2013 System Type' },
  { x: 790, t: 'Model Prediction \u2013 Workload Level' },
  { x: 1327, t: 'Model Prediction \u2013 Stimulus Modality' },
];
const EMBED_TITLES = [
  { x: 230, t: 'Before Alignment' },
  { x: 619, t: 'Learning to classify error events' },
  { x: 1011, t: 'Aligning with neural pattern' },
  { x: 1395, t: 'Alignment completed' },
];

function Backdrop() {
  return (
    <svg width={1600} height={1442} style={{ position: 'absolute', left: 0, top: 0 }} fontFamily={SANS}>
      <text x={802} y={44} textAnchor="middle" fontSize={33.3} fontWeight="bold" fill="#000">
        Analysis of model prediction using linear mixed effect models
      </text>
      <rect x={9.5} y={57} width={1583.5} height={915} fill="none" stroke="#1c2f3a" strokeWidth={3} />
      <line x1={50} x2={1593} y1={514} y2={514} stroke="#111" strokeWidth={3} />
      <line x1={542.7} x2={542.7} y1={124} y2={513} stroke="#111" strokeWidth={2.5} />
      <line x1={1072.7} x2={1072.7} y1={124} y2={513} stroke="#111" strokeWidth={2.5} />
      <line x1={542.7} x2={542.7} y1={581} y2={971} stroke="#111" strokeWidth={2.5} />
      <line x1={1072.7} x2={1072.7} y1={581} y2={971} stroke="#111" strokeWidth={2.5} />
      <text x={22} y={95} fontSize={31} letterSpacing={1} fill="#000"><tspan fontWeight="bold">a)</tspan> Navigation task</text>
      <text x={22} y={551} fontSize={31} letterSpacing={1} fill="#000"><tspan fontWeight="bold">b)</tspan> Surveillance task</text>
      <text x={22} y={1030} fontSize={31} letterSpacing={1} fill="#000"><tspan fontWeight="bold">c)</tspan> Feature fusion</text>
      {[133, 589].flatMap((y) =>
        RAIN_TITLES.map((r) => (
          <text key={`${y}-${r.x}`} x={r.x} y={y} textAnchor="middle" fontSize={23} fill="#000">{r.t}</text>
        ))
      )}
      {EMBED_TITLES.map((r) => (
        <text key={r.x} x={r.x} y={1071} textAnchor="middle" fontSize={23} fill="#000">{r.t}</text>
      ))}
    </svg>
  );
}

export default function App() {
  return (
    <div style={{ position: 'absolute', left: 0, top: 0, width: 1600, height: 1442, background: '#fff', overflow: 'hidden' }}>
      <Backdrop />
      {RAIN_PANELS.map((cfg) => <RainPanel key={cfg.id} cfg={cfg} />)}
      {EMBED_PANELS.map((cfg) => <EmbedPanel key={cfg.id} cfg={cfg} />)}
    </div>
  );
}
